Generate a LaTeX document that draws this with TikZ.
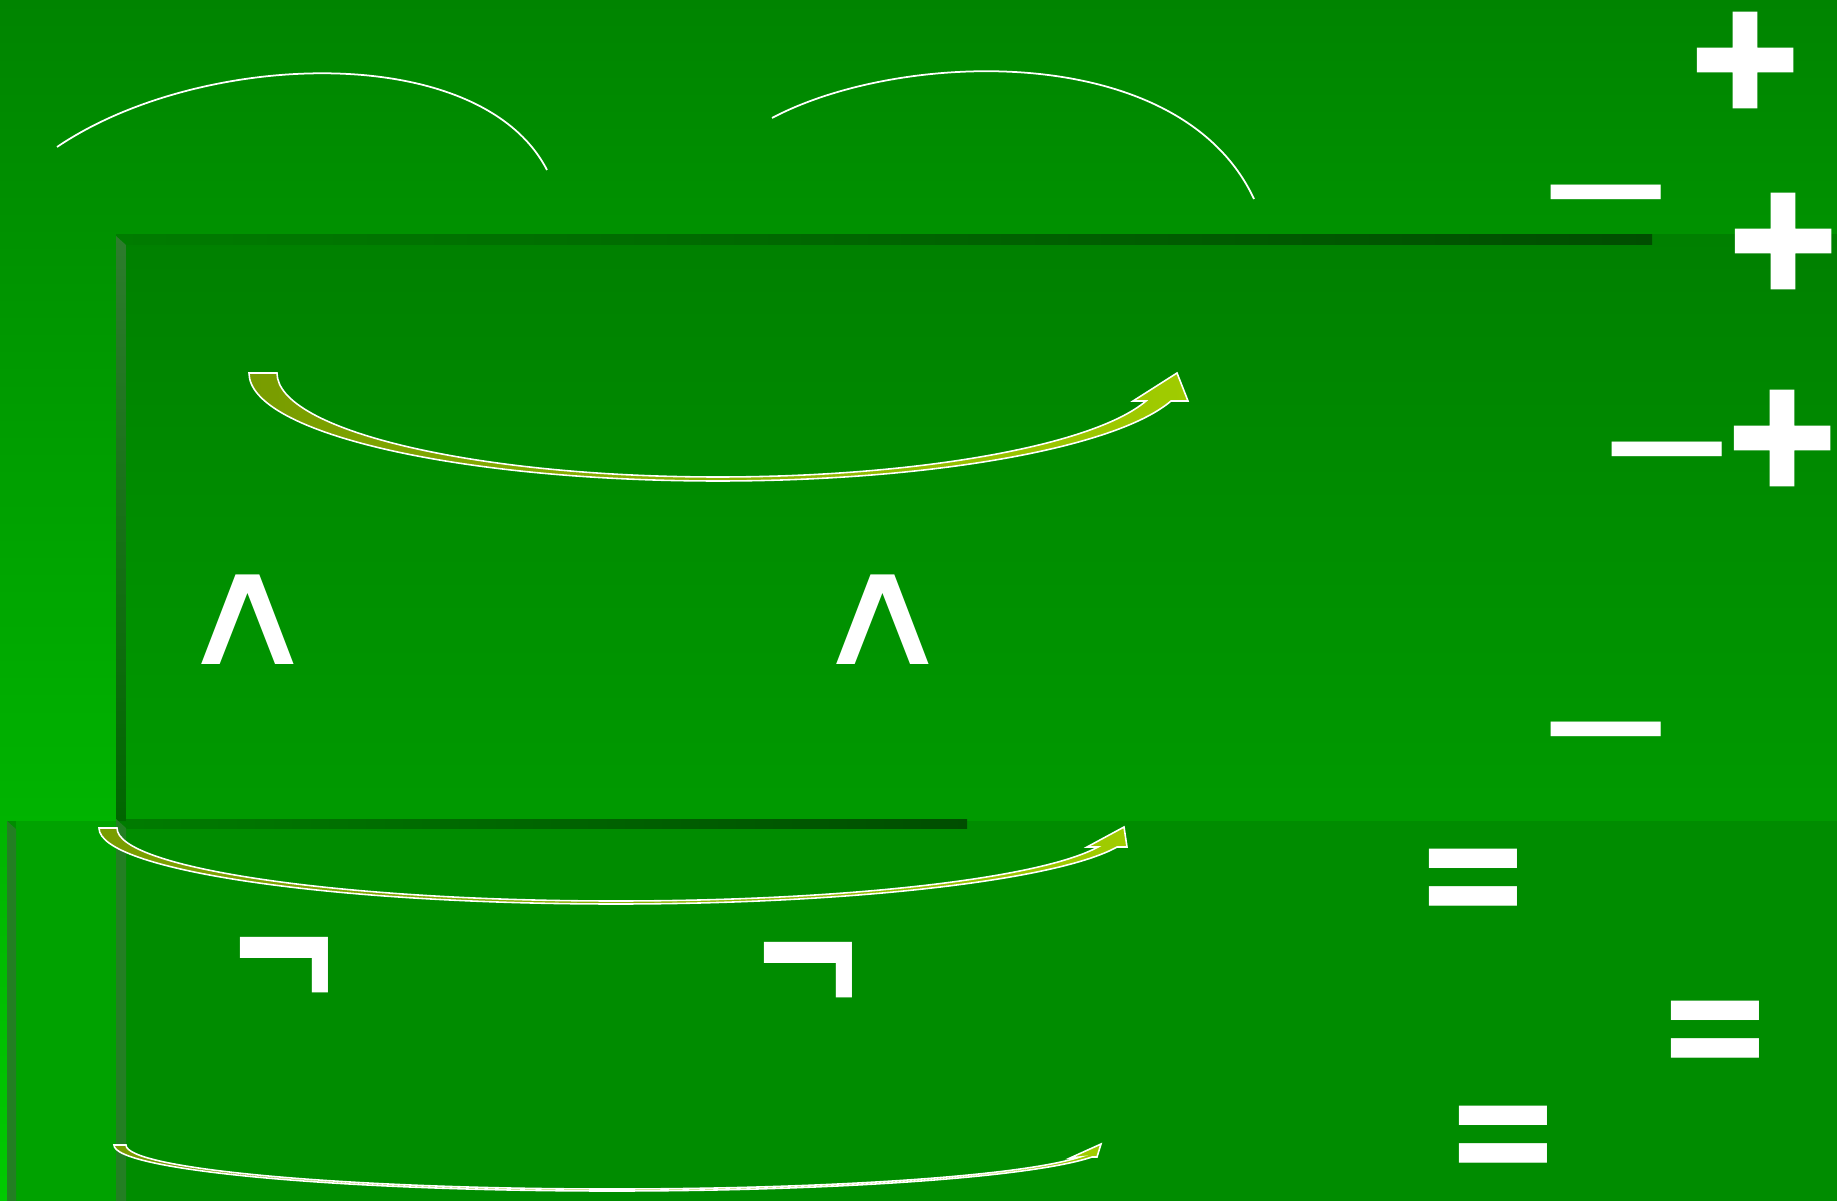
\documentclass[tikz,border=0pt]{standalone}
\usepackage{fontspec}
\usepackage{graphicx}
\newfontfamily\symfont{DejaVu Sans}
\newfontfamily\heavyfont[FakeBold=6]{DejaVu Sans Bold}
\usetikzlibrary{calc,positioning}
\definecolor{bgtop}{HTML}{008400}
\definecolor{bgbottom}{HTML}{00CA00}
\definecolor{panetop}{HTML}{008000}
\definecolor{panebottom}{HTML}{009A00}
\definecolor{lowerpane}{HTML}{008C00}
\definecolor{lowerleft}{HTML}{00A200}
\definecolor{edgelight}{HTML}{2D7C2D}
\definecolor{edgedark}{HTML}{006600}
\definecolor{edgemid}{HTML}{237F23}
\definecolor{rimleft}{HTML}{007C00}
\definecolor{rimright}{HTML}{004E00}
\definecolor{arrowolive}{HTML}{789C00}
\definecolor{arrowlime}{HTML}{A0CC00}
\tikzset{
   sym/.style={text=white, inner sep=0pt},
   plus sign/.style={sym, font=\heavyfont\fontsize{40}{40}\selectfont},
   minus sign/.style={sym, font=\symfont\fontsize{50}{50}\selectfont, yshift=-0.26cm},
   equal sign/.style={sym, font=\symfont\bfseries\fontsize{40}{40}\selectfont, yshift=-0.14cm},
   neg sign/.style={sym, font=\symfont\bfseries\fontsize{40}{40}\selectfont, yshift=-0.16cm},
   and sign/.style={sym, font=\symfont\fontsize{44}{44}\selectfont},
   curved arrow/.style={draw=white, line width=0.45pt, left color=arrowolive, right color=arrowlime},
   swoosh/.style={draw=white, line width=0.5pt}
}

\begin{document}
\begin{tikzpicture}[x=0.01cm, y=-0.01cm]
  \useasboundingbox (0,0) rectangle (1837,1201);

  % backdrop and panes
  \shade[top color=bgtop, bottom color=bgbottom] (0,0) rectangle (1837,1201);
  \shade[top color=panetop, bottom color=panebottom] (116,235) rectangle (1837,821);
  \fill[lowerpane] (7,821) rectangle (1837,1201);
  \fill[lowerleft] (16,821) rectangle (116,1201);
  \shade[left color=rimleft, right color=rimright] (116,235) rectangle (1652,245);
  \shade[left color=rimleft, right color=rimright] (116,819) rectangle (967,828);
  \shade[top color=edgelight, bottom color=edgedark] (116,236) -- (126,245) -- (126,821) -- (116,821) -- cycle;
  \fill[edgemid] (116,819) -- (126,828) -- (126,1201) -- (116,1201) -- cycle;
  \fill[edgemid] (7,821) -- (16,829) -- (16,1201) -- (7,1201) -- cycle;

  %%%%%%%%%%%

  \draw[swoosh] (57,147) .. controls (200,50) and (480,40) .. (547,170);
  \draw[swoosh] (772,118) .. controls (900,50) and (1180,40) .. (1254,199);

  %%%%%%%%%%%

  \shade[curved arrow] (249,373) .. controls (249,433) and (459,481) .. (718,481)
        .. controls (930,481) and (1116,448) .. (1171,401)
        -- (1188,401) -- (1177,373) -- (1133,401) -- (1146,401)
        .. controls (1093,446) and (916,477) .. (718,477)
        .. controls (474,477) and (277,430) .. (277,373) -- cycle;
  \shade[curved arrow] (99,828) .. controls (99,870) and (330,904) .. (616,904)
        .. controls (852,904) and (1058,880) .. (1117,847)
        -- (1127,847) -- (1124,827) -- (1087,847) -- (1098,847)
        .. controls (1039,879) and (842,901) .. (616,901)
        .. controls (340,901) and (117,868) .. (117,828) -- cycle;
  \shade[curved arrow] (114,1145) .. controls (114,1170) and (337,1191) .. (612,1191)
        .. controls (837,1191) and (1033,1177) .. (1092,1157)
        -- (1097,1157) -- (1101,1144) -- (1070,1158) -- (1080,1157)
        .. controls (1021,1176) and (830,1189) .. (612,1189)
        .. controls (344,1189) and (126,1169) .. (126,1145) -- cycle;

  %%%%%%%%%%%

  \node[plus sign]  at (1745,60)   (plus top)   {\makebox[0.74em]{+}};
  \node[plus sign]  at (1783,241)  (plus mid)   {\makebox[0.74em]{+}};
  \node[plus sign]  at (1782,438)  (plus low)   {\makebox[0.74em]{+}};
  \node[minus sign] at (1606,190)  (minus top)  {\makebox[0.62em]{−}};
  \node[minus sign] at (1667,447)  (minus mid)  {\makebox[0.62em]{−}};
  \node[minus sign] at (1606,727)  (minus low)  {\makebox[0.62em]{−}};

  \node[and sign]   at (248,620)   (and left)   {\scalebox{1.26}[1]{∧}};
  \node[and sign]   at (883,620)   (and right)  {\scalebox{1.26}[1]{∧}};
  \node[neg sign]   at (284,962)   (neg left)   {\scalebox{1}[1.3]{¬}};
  \node[neg sign]   at (808,967)   (neg right)  {\scalebox{1}[1.3]{¬}};

  \node[equal sign] at (1473,876)  (eq top)     {\scalebox{1}[1.2]{=}};
  \node[equal sign] at (1715,1028) (eq right)   {\scalebox{1}[1.2]{=}};
  \node[equal sign] at (1503,1133) (eq low)     {\scalebox{1}[1.2]{=}};

\end{tikzpicture}
\end{document}
